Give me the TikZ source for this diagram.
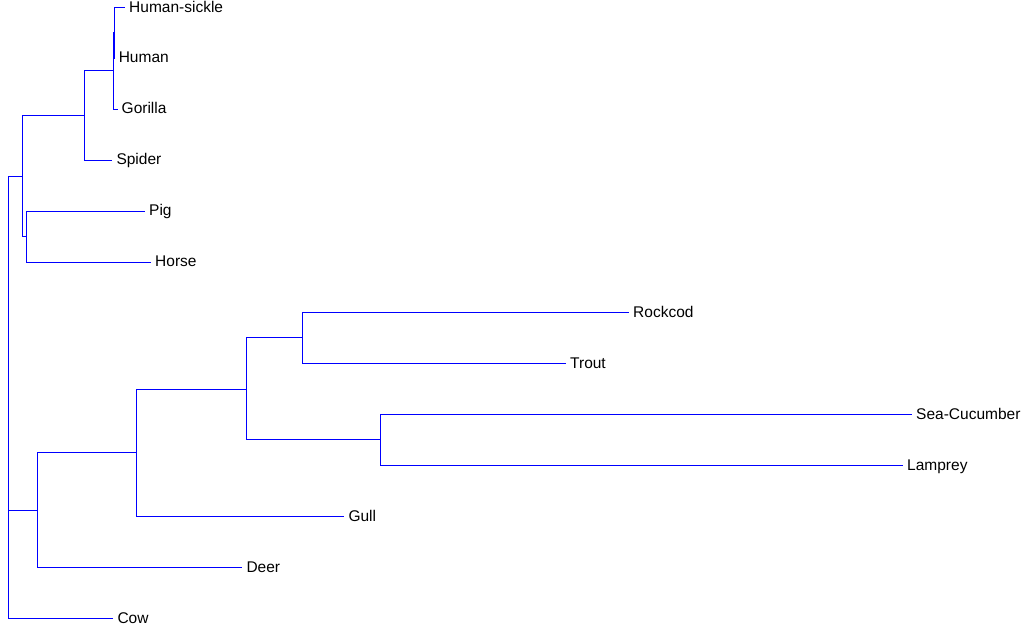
\documentclass[tikz,border=0pt]{standalone}
\usepackage{fontspec}
\setmainfont{Liberation Sans}
\tikzset{
    branch/.style={draw=blue,line width=1pt},
    leaf/.style={anchor=west,inner xsep=4pt,inner ysep=0pt,text height=0.98em,text depth=0pt}
}

\begin{document}
\begin{tikzpicture}[x=1pt,y=-1pt,font=\fontsize{15.5}{18}\selectfont]
                    \useasboundingbox (0,0) rectangle (1029,638);

                    \coordinate (root)  at (8.3,397);
                    \coordinate (top)   at (22.3,176);
                    \coordinate (hhgs)  at (84.3,115.3);
                    \coordinate (hhg)   at (113,70.7);
                    \coordinate (hh)    at (114.3,32.5);
                    \coordinate (ph)    at (26.3,236.5);
                    \coordinate (deer0) at (37.3,510);
                    \coordinate (gull0) at (136.3,452.8);
                    \coordinate (fish)  at (246.3,389.3);
                    \coordinate (rt)    at (302.3,337.8);
                    \coordinate (sl)    at (380.3,439.8);

                    \node[leaf] (hsickle) at (125,7.5)     {Human-sickle};
                    \node[leaf] (human)   at (114.6,58)    {Human};
                    \node[leaf] (gorilla) at (117.5,109)   {Gorilla};
                    \node[leaf] (spider)  at (112.3,160)   {Spider};
                    \node[leaf] (pig)     at (145,211)     {Pig};
                    \node[leaf] (horse)   at (151,262)     {Horse};
                    \node[leaf] (rockcod) at (629,312.3)   {Rockcod};
                    \node[leaf] (trout)   at (566,363.3)   {Trout};
                    \node[leaf] (seacuc)  at (912,414.3)   {Sea-Cucumber};
                    \node[leaf] (lamprey) at (903,465.3)   {Lamprey};
                    \node[leaf] (gull)    at (344.3,516.3) {Gull};
                    \node[leaf] (deer)    at (242.3,567.3) {Deer};
                    \node[leaf] (cow)     at (113.3,618.3) {Cow};

                    \foreach \p/\c in {root/top,root/deer0,top/hhgs,top/ph,hhgs/hhg,hhg/hh,
                                       deer0/gull0,gull0/fish,fish/rt,fish/sl}
                        \draw[branch] (\p) |- (\c);

                    \foreach \p/\c in {root/cow,hhgs/spider,hhg/gorilla,hh/hsickle,hh/human,
                                       ph/pig,ph/horse,deer0/deer,gull0/gull,rt/rockcod,
                                       rt/trout,sl/seacuc,sl/lamprey}
                        \draw[branch] (\p) |- (\c.west);
                \end{tikzpicture}
\end{document}
